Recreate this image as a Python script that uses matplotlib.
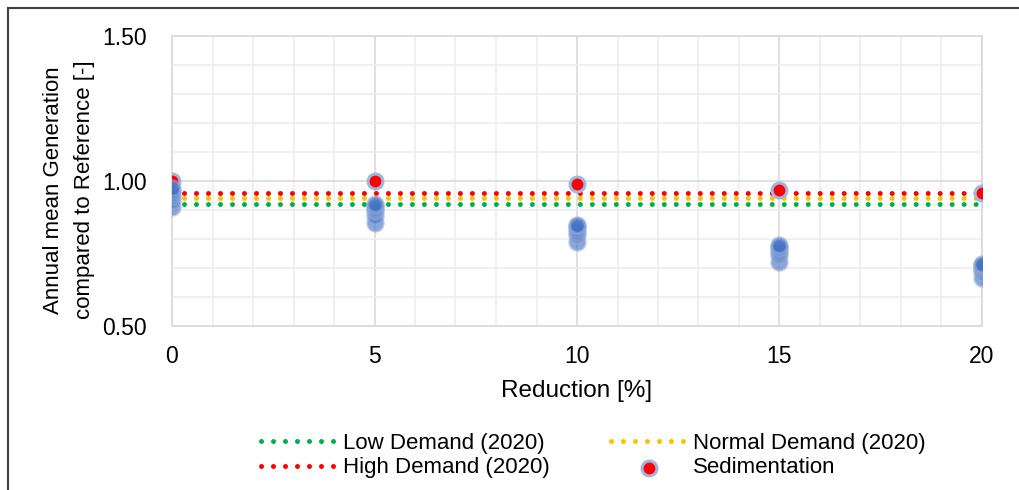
import matplotlib
matplotlib.use("Agg")
import matplotlib.pyplot as plt
from matplotlib.lines import Line2D
import numpy as np

plt.rcParams['font.family'] = ['Liberation Sans', 'DejaVu Sans']

# ---- data ----
reduction = [0, 5, 10, 15, 20]
low_demand = 0.92
normal_demand = 0.94
high_demand = 0.96
sedimentation = [1.00, 1.00, 0.99, 0.97, 0.96]
# individual runs (blue markers), one list per reduction step
runs_0 = [0.91, 0.93, 0.945, 0.955, 0.965, 0.975]
runs_5 = [0.855, 0.88, 0.895, 0.905, 0.915, 0.92]
runs_10 = [0.79, 0.815, 0.825, 0.835, 0.845, 0.85]
runs_15 = [0.72, 0.745, 0.755, 0.765, 0.772, 0.778]
runs_20 = [0.665, 0.685, 0.695, 0.703, 0.71, 0.713]
runs = [runs_0, runs_5, runs_10, runs_15, runs_20]

y_ticks = [0.50, 1.00, 1.50]
x_ticks = [0, 5, 10, 15, 20]

fig = plt.figure(figsize=(10.2, 4.9), dpi=100)
ax = fig.add_axes([172/1020, 1-326/490, (982-172)/1020, (326-36)/490])

lw = 3.6
dot = (0, (0.01, 8.6/lw))
for val, col, lab in [(low_demand, '#00B050', 'Low Demand (2020)'),
                      (normal_demand, '#FFC000', 'Normal Demand (2020)'),
                      (high_demand, '#FF0000', 'High Demand (2020)')]:
    ax.plot([reduction[0], reduction[-1]], [val, val], color=col, lw=lw,
            linestyle=dot, dash_capstyle='round', zorder=3, label=lab)

ax.scatter(reduction, sedimentation, s=115, facecolor='#FF0000',
           edgecolor='#9FB6E0', linewidth=2.2, zorder=4, label='Sedimentation')

for x, vals in zip(reduction, runs):
    ax.scatter([x]*len(vals), vals, s=125, facecolor='#4472C4', alpha=0.62,
               edgecolor='#8FAADC', linewidth=2, zorder=5)

ax.set_xlim(0, 20)
ax.set_ylim(0.5, 1.5)
ax.set_xticks(x_ticks)
ax.set_xticklabels([str(v) for v in x_ticks])
ax.set_yticks(y_ticks)
ax.set_yticklabels([f"{v:.2f}" for v in y_ticks])
ax.set_xticks(np.arange(0, 21, 1), minor=True)
ax.set_yticks(np.arange(0.5, 1.51, 0.1), minor=True)
ax.grid(True, which='major', color='#D9D9D9', lw=1.2, zorder=0)
ax.grid(True, which='minor', color='#EDEDED', lw=1.2, zorder=0)
ax.tick_params(which='both', length=0)
ax.tick_params(axis='y', labelsize=16.5, pad=18, colors='#000000')
ax.tick_params(axis='x', labelsize=16.5, pad=14)
for s in ax.spines.values():
    s.set_color('#D9D9D9')
    s.set_linewidth(1.2)
ax.set_axisbelow(True)

ax.set_xlabel('Reduction [%]', fontsize=17.5, labelpad=8)
ax.set_ylabel('Annual mean Generation\ncompared to Reference [-]', fontsize=16,
              linespacing=1.62)
ax.yaxis.set_label_coords(-0.095, 0.47)

handles, labels = ax.get_legend_handles_labels()
# column-major fill: col1 = Low, High ; col2 = Normal, Sedimentation
order = [0, 2, 1, 3]
leg = fig.legend([handles[i] for i in order], [labels[i] for i in order],
                 loc='upper left', bbox_to_anchor=(261/1020, 1-433/490), ncol=2,
                 frameon=False, fontsize=16, handlelength=3.4,
                 columnspacing=2.75, labelspacing=0.15, handletextpad=0.3,
                 borderpad=0, borderaxespad=0)

# outer frame (top and left)
fig.add_artist(Line2D([8/1020, 8/1020], [0, 1-8/490], transform=fig.transFigure,
                      color='#404040', lw=1.5))
fig.add_artist(Line2D([8/1020, 1], [1-8/490, 1-8/490], transform=fig.transFigure,
                      color='#404040', lw=1.5))

fig.savefig('out.png', dpi=100)
